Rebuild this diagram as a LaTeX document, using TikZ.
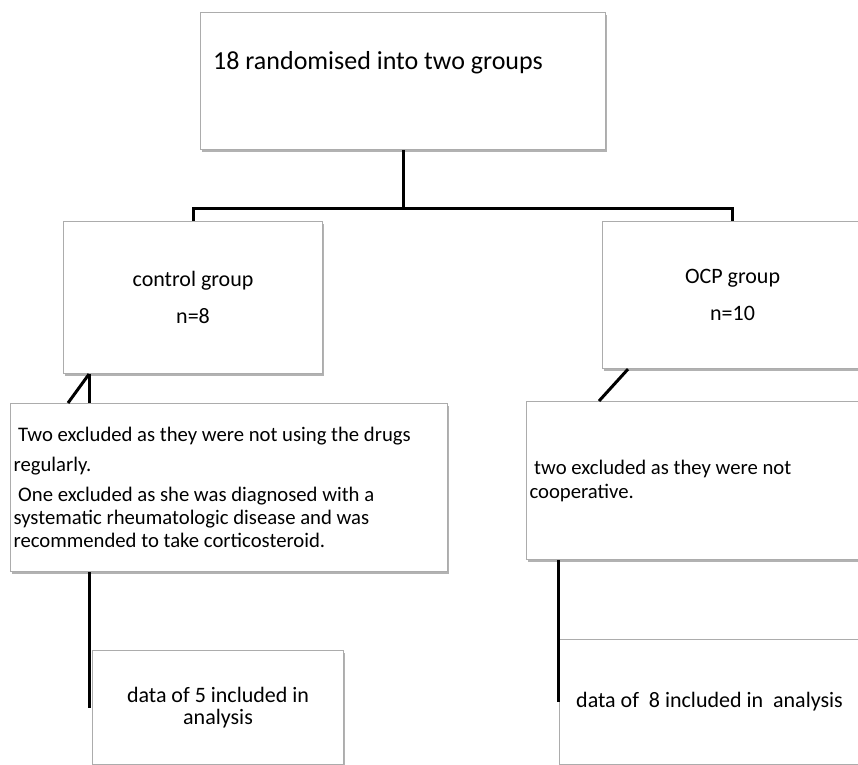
\documentclass[tikz,border=0pt]{standalone}
\usepackage{fontspec}
\setmainfont{Carlito}
\usetikzlibrary{positioning,shadows}
\definecolor{boxgray}{RGB}{172,172,172}

\begin{document}
\begin{tikzpicture}[x=1pt,y=-1pt,
                box/.style={rectangle, draw=boxgray, line width=1.1pt, fill=white, anchor=north west, inner sep=3pt,
                    drop shadow={shadow xshift=1pt, shadow yshift=-2pt, opacity=0.3, fill=black}},
                group/.style={box, align=center, font=\fontsize{22}{37}\selectfont},
                excl/.style={box, align=flush left, font=\fontsize{20.7}{23}\selectfont,
                    execute at begin node={\spaceskip=0pt\xspaceskip=0pt}},
                result/.style={box, align=center, font=\fontsize{22}{22}\selectfont},
                link/.style={line width=3pt},]
            \useasboundingbox (0,0) rectangle (858,764);
            \fill[white] (0,0) rectangle (858,764);
            \clip (0,0) rectangle (858,764);
            \node[box, minimum width=405pt, minimum height=137pt] (rand) at (200,12) {};
            \node[anchor=west, inner sep=0pt, font=\fontsize{26}{30}\selectfont] (randtxt)
                at ([xshift=13pt, yshift=-51pt]rand.north west) {18 randomised into two groups};
            \node[group, minimum width=259pt, minimum height=152pt] (ctrl) at (63,221) {control group\\ n=8};
            \node[group, minimum width=260pt, minimum height=147pt] (ocp) at (602,221) {OCP group\\ n=10};
            \node[excl, text width=431pt, minimum height=168pt] (excla) at (10,403)
                {\ Two excluded as they were not using the drugs\\[7pt]
                 regularly.\\[7pt]
                 \ One excluded as she was diagnosed with a\\
                 systematic rheumatologic disease and was\\
                 recommended to take corticosteroid.};
            \node[excl, text width=348pt, minimum height=158pt, font=\fontsize{20.7}{24}\selectfont] (exclb) at (526,401)
                {\ two excluded as they were not\\ cooperative.};
            \node[result, minimum width=251pt, minimum height=114pt] (dataa) at (92,650) {data of 5 included in\\ analysis};
            \node[result, minimum width=300pt, minimum height=125pt] (datab) at (559,639) {data of~~8 included in~~analysis};
            \draw[link] (rand.south) -- ++(0,58) coordinate (split);
            \draw[link] (ctrl.north) |- (split) -| (ocp.north);
            \draw[link] ([xshift=26pt]ctrl.south west) -- ([xshift=58pt]excla.north west);
            \draw[link] ([xshift=26pt]ctrl.south west) -- ([xshift=79pt]excla.north west);
            \draw[link] ([xshift=26pt]ocp.south west) -- ([xshift=73pt]exclb.north west);
            \draw[link] ([xshift=-3pt]dataa.west) -- ([xshift=-3pt]dataa.west |- excla.south);
            \draw[link] ([xshift=-1pt]datab.west) -- ([xshift=-1pt]datab.west |- exclb.south);
        \end{tikzpicture}
\end{document}
